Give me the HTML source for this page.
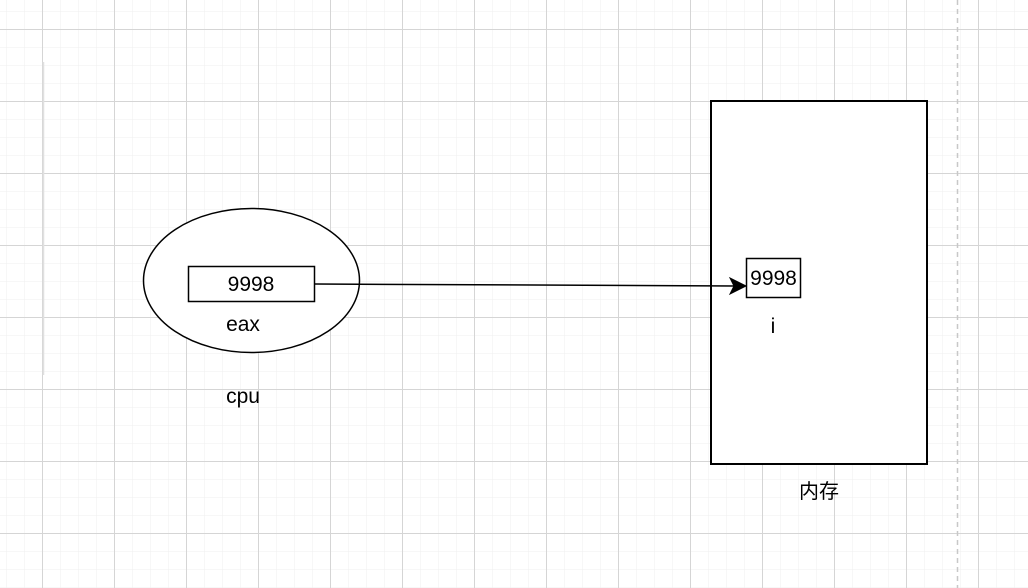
<!DOCTYPE html>
<html><head><meta charset="utf-8"><style>
html,body{margin:0;padding:0;background:#fff;}
svg{display:block;}
text{font-family:"Liberation Sans","Noto Sans CJK SC",sans-serif;}
</style></head><body>
<svg width="1028" height="588" viewBox="0 0 1028 588" xmlns="http://www.w3.org/2000/svg">
<defs>
<pattern id="minor" x="6" y="11" width="18" height="18" patternUnits="userSpaceOnUse">
<path d="M0 0H18M0 0V18" stroke="#efefef" stroke-width="1" fill="none"/>
</pattern>
<pattern id="major" x="42" y="29" width="72" height="72" patternUnits="userSpaceOnUse">
<path d="M0 0.5H72M0.5 0V72" stroke="#d5d5d5" stroke-width="1" fill="none"/>
</pattern>
</defs>
<rect width="1028" height="588" fill="url(#minor)"/>
<rect width="1028" height="588" fill="url(#major)"/>
<line x1="957.5" y1="0" x2="957.5" y2="588" stroke="#c8c8c8" stroke-width="1.5" stroke-dasharray="5,4"/>
<line x1="43.5" y1="62" x2="43.5" y2="375" stroke="#e0e0e0" stroke-width="1.5"/>

<ellipse cx="251.5" cy="280.5" rx="108" ry="72" fill="#fff" stroke="#000" stroke-width="1.5"/>
<rect x="188.5" y="266.5" width="126" height="35" fill="#fff" stroke="#000" stroke-width="1.5"/>
<text x="251" y="291" font-size="21" text-anchor="middle">9998</text>
<text x="243" y="331" font-size="21" text-anchor="middle">eax</text>
<text x="243" y="403" font-size="21" text-anchor="middle">cpu</text>

<rect x="711" y="101" width="216" height="363" fill="#fff" stroke="#000" stroke-width="2"/>
<rect x="746.5" y="258.5" width="54" height="39" fill="#fff" stroke="#000" stroke-width="1.5"/>
<text x="773.5" y="285" font-size="21" text-anchor="middle">9998</text>
<text x="773" y="333" font-size="21" text-anchor="middle">i</text>
<text x="819" y="498" font-size="20" text-anchor="middle">内存</text>

<line x1="315" y1="284" x2="735" y2="286" stroke="#000" stroke-width="1.5"/>
<path d="M746 286 L730 278 L734 286 L730 294 Z" fill="#000" stroke="#000" stroke-width="1"/>
</svg>
</body></html>
